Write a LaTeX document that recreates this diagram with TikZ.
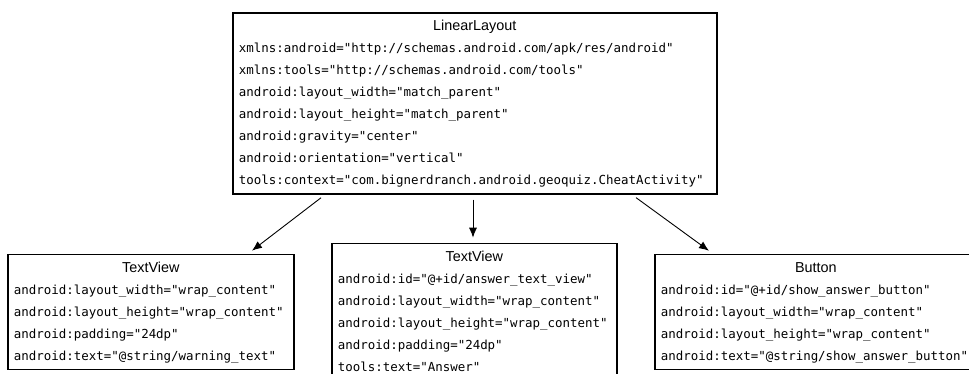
\documentclass[tikz,border=0pt]{standalone}
\usepackage{fontspec}
\setmainfont{Liberation Sans}
\setmonofont{DejaVu Sans Mono}
\usetikzlibrary{positioning, arrows.meta}

\renewcommand{\arraystretch}{0}
\newcommand{\boxstrut}{\rule[-6.5pt]{0pt}{22pt}}
\newcommand{\viewname}[1]{\multicolumn{1}{@{}c@{}}{\rmfamily\fontsize{14.4}{22}\selectfont\boxstrut #1}}
\newcommand{\attr}[1]{\boxstrut #1}

\tikzset{
  view/.style={draw=black, line width=1.7pt, inner xsep=6pt, inner ysep=2.5pt,
    font=\ttfamily\fontsize{12.45}{22}\selectfont},
  link/.style={-{Latex[length=10pt, width=8pt]}, line width=0.9pt,
    shorten <=5pt, shorten >=5pt}
}

\begin{document}
\begin{tikzpicture}
  \useasboundingbox (-232pt,12pt) rectangle (737pt,-361pt);
  % Root layout with its attributes
  \node[view, anchor=north west] (layout) at (0,0) {%
    \begin{tabular}{@{}p{472pt}@{}}
      \viewname{LinearLayout} \\
      \attr{xmlns:android="http://schemas.android.com/apk/res/android"} \\
      \attr{xmlns:tools="http://schemas.android.com/tools"} \\
      \attr{android:layout\_width="match\_parent"} \\
      \attr{android:layout\_height="match\_parent"} \\
      \attr{android:gravity="center"} \\
      \attr{android:orientation="vertical"} \\
      \attr{tools:context="com.bignerdranch.android.geoquiz.CheatActivity"} \\
    \end{tabular}};
  % Child views
  \node[view, below right=59pt and -225pt of layout.south west] (warning) {%
    \begin{tabular}{@{}p{274pt}@{}}
      \viewname{TextView} \\
      \attr{android:layout\_width="wrap\_content"} \\
      \attr{android:layout\_height="wrap\_content"} \\
      \attr{android:padding="24dp"} \\
      \attr{android:text="@string/warning\_text"} \\
    \end{tabular}};
  \node[view, below right=48pt and 99pt of layout.south west] (answer) {%
    \begin{tabular}{@{}p{273pt}@{}}
      \viewname{TextView} \\
      \attr{android:id="@+id/answer\_text\_view"} \\
      \attr{android:layout\_width="wrap\_content"} \\
      \attr{android:layout\_height="wrap\_content"} \\
      \attr{android:padding="24dp"} \\
      \attr{tools:text="Answer"} \\
    \end{tabular}};
  \node[view, below right=59pt and 422pt of layout.south west] (button) {%
    \begin{tabular}{@{}p{310pt}@{}}
      \viewname{Button} \\
      \attr{android:id="@+id/show\_answer\_button"} \\
      \attr{android:layout\_width="wrap\_content"} \\
      \attr{android:layout\_height="wrap\_content"} \\
      \attr{android:text="@string/show\_answer\_button"} \\
    \end{tabular}};
  \draw[link] ([xshift=93pt]layout.south west) -- ([xshift=241pt]warning.north west);
  \draw[link] ([xshift=241pt]layout.south west) -- ([xshift=142pt]answer.north west);
  \draw[link] ([xshift=400pt]layout.south west) -- ([xshift=59pt]button.north west);
\end{tikzpicture}
\end{document}
